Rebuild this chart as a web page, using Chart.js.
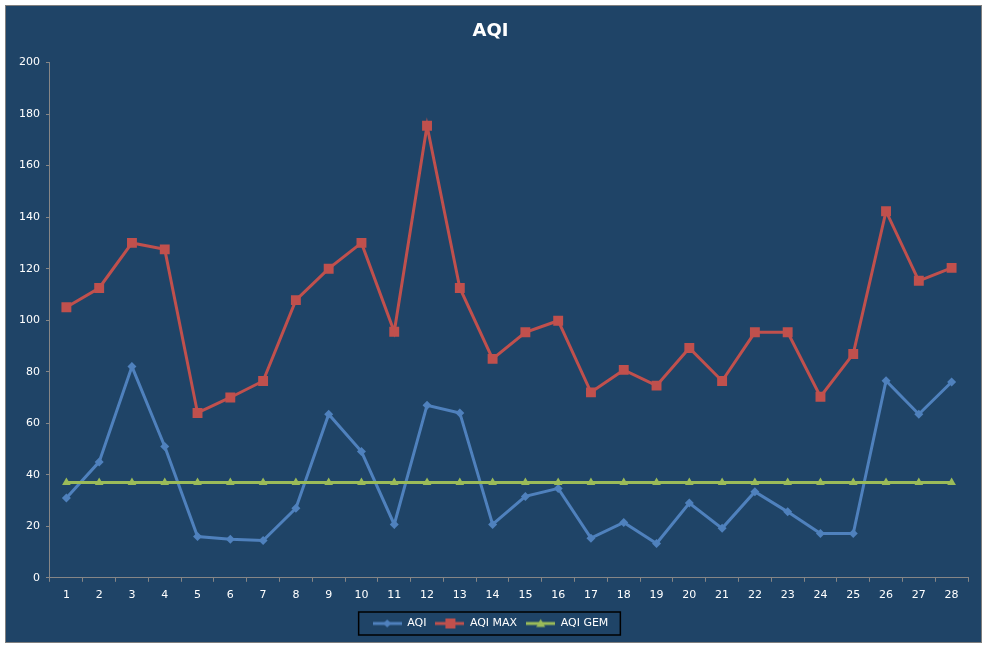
<!DOCTYPE html>
<html>
<head>
<meta charset="utf-8">
<script src="https://cdn.jsdelivr.net/npm/chart.js@4.4.1/dist/chart.umd.min.js"></script>
<style>
    body { margin: 0; background: #ffffff; }
    #box {
        position: absolute; left: 5px; top: 5px;
        width: 977px; height: 638px;
        box-sizing: border-box;
        border: 1px solid #7f7f7f;
        background: #1f4467;
    }
    #box canvas { display: block; }
</style>
</head>
<body>
<div id="box"><canvas id="aqiChart" width="975" height="636"></canvas></div>
<script>
const days = ['1', '2', '3', '4', '5', '6', '7', '8', '9', '10', '11', '12', '13', '14',
    '15', '16', '17', '18', '19', '20', '21', '22', '23', '24', '25', '26', '27', '28'];
const aqi = [31, 45, 82, 51, 16, 15, 14.5, 27, 63.5, 49, 20.7, 67, 64, 20.7,
    31.6, 34.7, 15.4, 21.5, 13.3, 29, 19.2, 33.4, 25.6, 17.2, 17.2, 76.5, 63.5, 76];
const aqiMax = [105, 112.5, 130, 127.5, 64, 70, 76.4, 107.8, 120, 130, 95.5, 175.5, 112.5, 85,
    95.3, 99.8, 72, 80.7, 74.6, 89.2, 76.4, 95.3, 95.3, 70.3, 86.9, 142.3, 115.3, 120.3];
const aqiGem = [37, 37, 37, 37, 37, 37, 37, 37, 37, 37, 37, 37, 37, 37,
    37, 37, 37, 37, 37, 37, 37, 37, 37, 37, 37, 37, 37, 37];

const blue = '#4f81bd';
const red = '#c0504d';
const green = '#9bbb59';

// small line+marker picture for the legend
function legendIcon(color, shape) {
    const c = document.createElement('canvas');
    c.width = 29;
    c.height = 12;
    const g = c.getContext('2d');
    g.strokeStyle = color;
    g.fillStyle = color;
    g.lineWidth = 3;
    g.beginPath();
    g.moveTo(0, 6);
    g.lineTo(29, 6);
    g.stroke();
    g.beginPath();
    if (shape === 'diamond') {
        g.moveTo(14.5, 2); g.lineTo(18.5, 6); g.lineTo(14.5, 10); g.lineTo(10.5, 6);
    } else if (shape === 'square') {
        g.rect(10, 1, 10, 10);
    } else {
        g.moveTo(14.5, 1.5); g.lineTo(19, 9.5); g.lineTo(10, 9.5);
    }
    g.closePath();
    g.fill();
    return c;
}

const legendBorder = {
    id: 'legendBorder',
    afterDraw(chart) {
        const boxes = chart.legend.legendHitBoxes;
        if (!boxes || !boxes.length) return;
        let left = Infinity, right = -Infinity, top = Infinity, bottom = -Infinity;
        boxes.forEach(b => {
            left = Math.min(left, b.left);
            right = Math.max(right, b.left + b.width);
            top = Math.min(top, b.top);
            bottom = Math.max(bottom, b.top + b.height);
        });
        const ctx = chart.ctx;
        ctx.save();
        ctx.strokeStyle = '#000000';
        ctx.lineWidth = 1.5;
        ctx.strokeRect(left - 14, top - 6, right - left + 26, bottom - top + 12);
        ctx.restore();
    }
};

Chart.defaults.font.family = '"DejaVu Sans", sans-serif';
Chart.defaults.font.size = 11;
Chart.defaults.color = '#ffffff';

const ctx = document.getElementById('aqiChart').getContext('2d');
const aqiChart = new Chart(ctx, {
    type: 'line',
    data: {
        labels: days,
        datasets: [{
            label: 'AQI',
            data: aqi,
            order: 3,
            borderColor: blue,
            backgroundColor: blue,
            borderWidth: 3,
            pointStyle: 'rectRot',
            pointRadius: 4.5,
            pointHoverRadius: 4.5,
            pointBorderWidth: 0,
            tension: 0,
            legendIcon: legendIcon(blue, 'diamond')
        }, {
            label: 'AQI MAX',
            data: aqiMax,
            order: 2,
            borderColor: red,
            backgroundColor: red,
            borderWidth: 3,
            pointStyle: 'rect',
            pointRadius: 7,
            pointHoverRadius: 7,
            pointBorderWidth: 0,
            tension: 0,
            legendIcon: legendIcon(red, 'square')
        }, {
            label: 'AQI GEM',
            data: aqiGem,
            order: 1,
            borderColor: green,
            backgroundColor: green,
            borderWidth: 3,
            pointStyle: 'triangle',
            pointRadius: 5,
            pointHoverRadius: 5,
            pointBorderWidth: 0,
            tension: 0,
            legendIcon: legendIcon(green, 'triangle')
        }]
    },
    options: {
        responsive: false,
        animation: false,
        layout: {
            padding: { left: 7, right: 13, top: 0, bottom: 3 }
        },
        plugins: {
            title: {
                display: true,
                text: 'AQI',
                color: '#ffffff',
                font: { size: 18, weight: 'bold' },
                padding: { top: 15, bottom: 20 }
            },
            legend: {
                position: 'bottom',
                labels: {
                    usePointStyle: true,
                    pointStyleWidth: 29,
                    padding: 9,
                    color: '#ffffff',
                    generateLabels(chart) {
                        return chart.data.datasets.map((ds, i) => ({
                            text: ds.label,
                            pointStyle: ds.legendIcon,
                            fillStyle: ds.borderColor,
                            strokeStyle: ds.borderColor,
                            lineWidth: 0,
                            fontColor: '#ffffff',
                            hidden: false,
                            datasetIndex: i
                        }));
                    }
                }
            },
            tooltip: { enabled: false }
        },
        scales: {
            x: {
                offset: true,
                grid: {
                    offset: true,
                    drawOnChartArea: false,
                    drawTicks: true,
                    tickLength: 4,
                    color: '#868686'
                },
                border: { color: '#868686', width: 1 },
                ticks: { color: '#ffffff', padding: 7, maxRotation: 0, autoSkip: false }
            },
            y: {
                min: 0,
                max: 200,
                grid: {
                    drawOnChartArea: false,
                    drawTicks: true,
                    tickLength: 4,
                    color: '#868686'
                },
                border: { color: '#868686', width: 1 },
                ticks: { stepSize: 20, color: '#ffffff', padding: 6 }
            }
        }
    },
    plugins: [legendBorder]
});
</script>
</body>
</html>
